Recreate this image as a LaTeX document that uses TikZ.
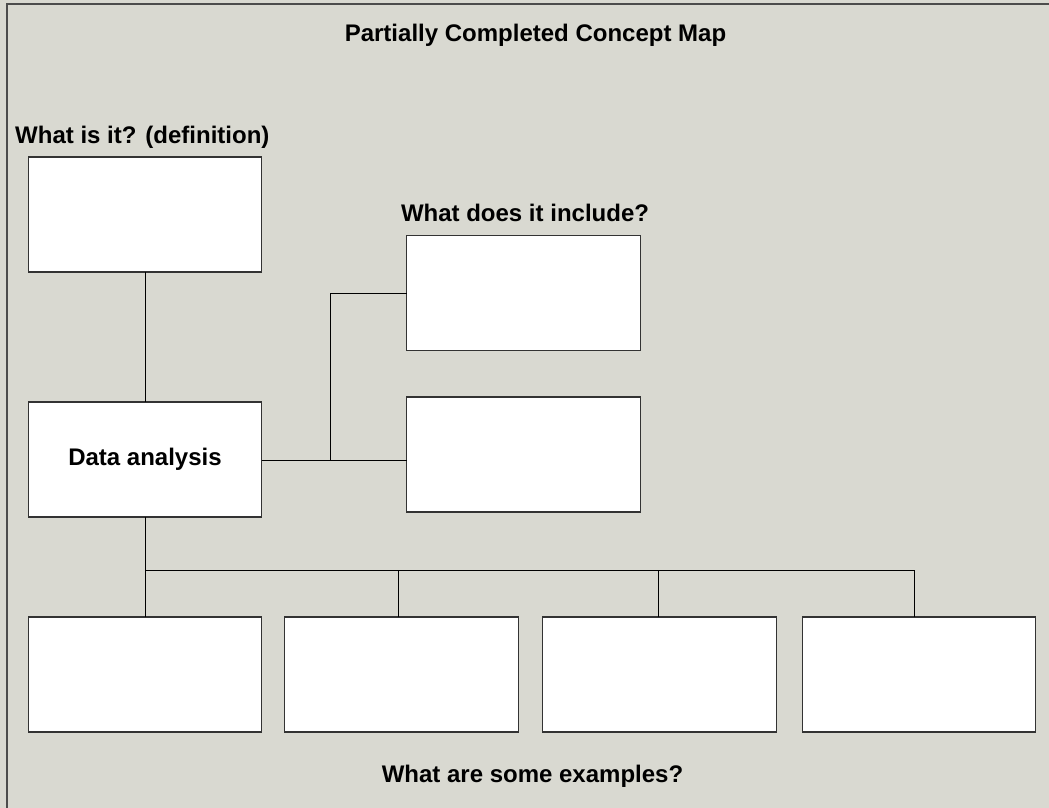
\documentclass[tikz,border=0pt]{standalone}
\usepackage{fontspec}
\setmainfont{Liberation Sans}
\usetikzlibrary{positioning}
\definecolor{mapbg}{HTML}{D9D9D1}

\begin{document}
\begin{tikzpicture}[
     x=1pt, y=-1pt,
     node distance = 130pt and 23pt,
   every node/.style = {font=\bfseries\fontsize{24}{28}\selectfont},
        box/.style = {rectangle, draw=black!80, fill=white, line width=1.3pt, outer sep=0pt,
                      minimum width=233.5pt, minimum height=115pt, inner sep=0pt},
       head/.style = {inner sep=0pt, anchor=base},
       link/.style = {line width=1pt}
                        ]
\useasboundingbox (0,0) rectangle (1049,808);
\fill[mapbg] (0,0) rectangle (1049,808);
\draw[black!70, line width=1.5pt] (7,808) |- (1049,4);
% boxes
\node (def)  [box] at (145,214.5) {};
\node (data) [box,below=130pt of def] {Data analysis};
\node (incA) [box] at (523.5,293) {};
\node (incB) [box,below=46.5pt of incA] {};
\node (exA)  [box] at (145,674.5) {};
\node (exB)  [box,right=23pt of exA] {};
\node (exC)  [box,right=24.5pt of exB] {};
\node (exD)  [box,right=26pt of exC] {};
% headings
\node (title) [head] at (535.5,42) {Partially Completed Concept Map};
\node (qdef)  [head,anchor=base west] at (15,143) {What is it? (definition)};
\node (qinc)  [head] at (525,221) {What does it include?};
\node (qex)   [head] at (532.5,782) {What are some examples?};
% links
\coordinate (fork) at (330,460);
\coordinate (tee)  at (145,570);
\draw[link] (def) -- (data);
\draw[link] (data.east |- fork) -- (incB.west |- fork);
\draw[link] (fork) |- (incA.west);
\draw[link] (data) -- (tee) -| ([xshift=-5pt]exD.north);
\draw[link] (tee) -| ([xshift=-3.5pt]exB.north);
\draw[link] (tee) -| ([xshift=-1.5pt]exC.north);
\draw[link] (tee) -- (exA);
\end{tikzpicture}
\end{document}
